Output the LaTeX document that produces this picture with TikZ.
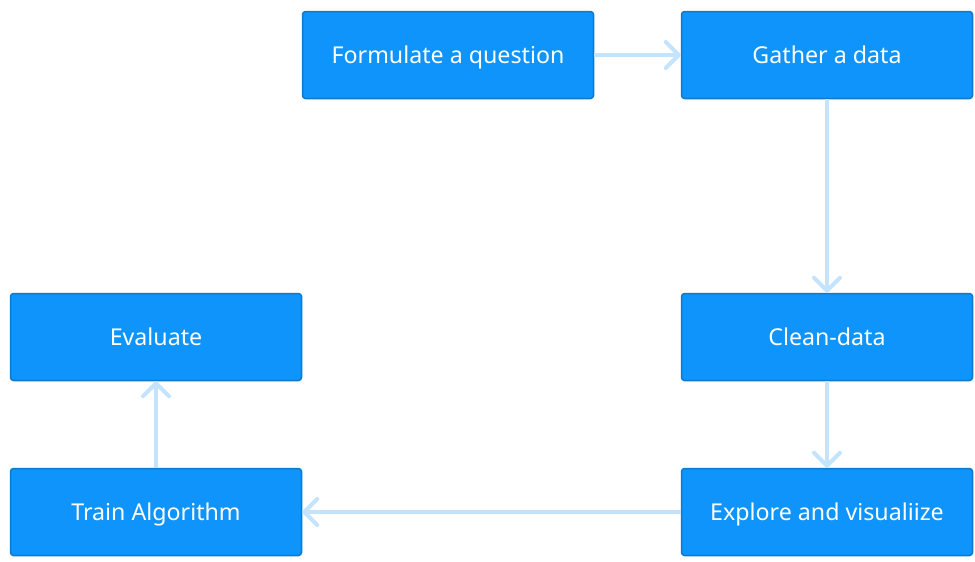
\documentclass[tikz,border=0pt]{standalone}
\usepackage{fontspec}
\setmainfont{Noto Sans}
\usetikzlibrary{arrows.meta}
\definecolor{boxfill}{HTML}{0E94FB}
\definecolor{boxline}{HTML}{0B7ACF}
\definecolor{flow}{HTML}{C4E4FD}
\begin{document}
\begin{tikzpicture}[x=1pt,y=-1pt,
  stage/.style={draw=boxline, line width=1.5pt, fill=boxfill, rounded corners=3pt,
    minimum width=291pt, minimum height=87pt, inner sep=0pt, text=white,
    text height=16.6pt, text depth=0pt,
    font=\fontsize{23.2}{27}\selectfont},
  flowarrow/.style={draw=flow, line width=4pt,
    -{Straight Barb[length=13pt,width=26pt,line width=4pt,round]}}]
  \useasboundingbox (0,0) rectangle (975,562);
  \node[stage] (formulate) at (448,55) {Formulate a question};
  \node[stage] (gather)    at (827,55) {Gather a data};
  \node[stage] (clean)     at (827,337) {Clean-data};
  \node[stage] (explore)   at (827,512) {Explore and visualiize};
  \node[stage] (evaluate)  at (156,337) {Evaluate};
  \node[stage] (train)     at (156,512) {Train Algorithm};
  \draw[flowarrow] (formulate.east) -- (gather.west);
  \draw[flowarrow] (gather.south) -- (clean.north);
  \draw[flowarrow] (clean.south) -- (explore.north);
  \draw[flowarrow] (explore.west) -- (train.east);
  \draw[flowarrow] (train.north) -- (evaluate.south);
\end{tikzpicture}
\end{document}
